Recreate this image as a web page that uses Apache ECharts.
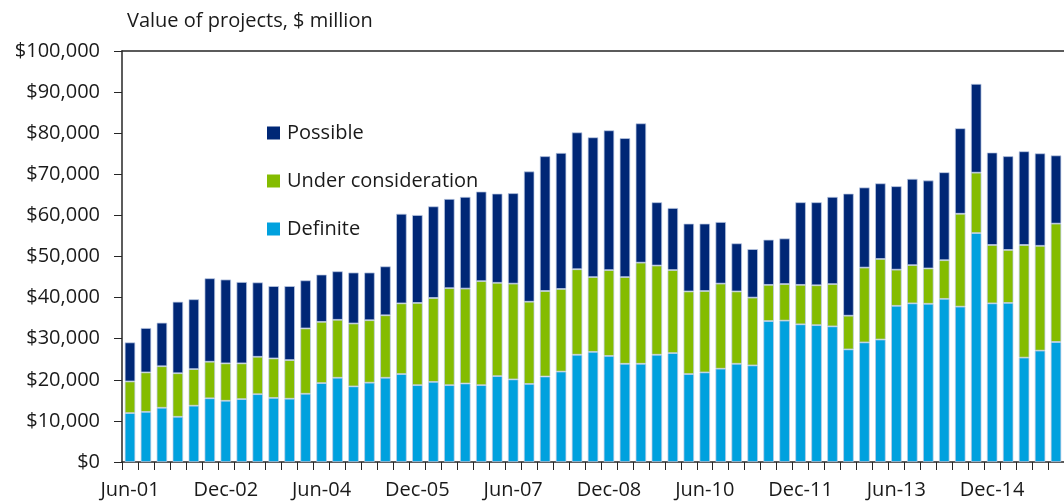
<!DOCTYPE html>
<html>
<head>
<meta charset="utf-8">
<script src="https://cdn.jsdelivr.net/npm/echarts@6/dist/echarts.min.js"></script>
<style>
	html, body { margin: 0; padding: 0; background: #fff; }
	#chart { width: 1064px; height: 504px; }
</style>
</head>
<body>
<div id="chart"></div>
<script>
	'use strict'

	/*----- data ($ million) -----*/
	var quarters = [
		'Jun-01', 'Sep-01', 'Dec-01', 'Mar-02', 'Jun-02', 'Sep-02',
		'Dec-02', 'Mar-03', 'Jun-03', 'Sep-03', 'Dec-03', 'Mar-04',
		'Jun-04', 'Sep-04', 'Dec-04', 'Mar-05', 'Jun-05', 'Sep-05',
		'Dec-05', 'Mar-06', 'Jun-06', 'Sep-06', 'Dec-06', 'Mar-07',
		'Jun-07', 'Sep-07', 'Dec-07', 'Mar-08', 'Jun-08', 'Sep-08',
		'Dec-08', 'Mar-09', 'Jun-09', 'Sep-09', 'Dec-09', 'Mar-10',
		'Jun-10', 'Sep-10', 'Dec-10', 'Mar-11', 'Jun-11', 'Sep-11',
		'Dec-11', 'Mar-12', 'Jun-12', 'Sep-12', 'Dec-12', 'Mar-13',
		'Jun-13', 'Sep-13', 'Dec-13', 'Mar-14', 'Jun-14', 'Sep-14',
		'Dec-14', 'Mar-15', 'Jun-15', 'Sep-15', 'Dec-15'
	];
	var definite = [
		11900, 12200, 13200, 11000, 13700, 15500, 14900, 15300, 16500, 15600,
		15400, 16600, 19200, 20500, 18400, 19300, 20500, 21400, 18700, 19500,
		18700, 19100, 18700, 20900, 20100, 19000, 20800, 22000, 26100, 26800,
		25800, 23900, 23900, 26100, 26500, 21400, 21800, 22700, 23900, 23500,
		34300, 34400, 33500, 33300, 33000, 27400, 29100, 29800, 38000, 38600,
		38500, 39700, 37800, 55700, 38600, 38700, 25400, 27100, 29200
	];
	var underConsideration = [
		7700, 9600, 10100, 10600, 8900, 8900, 9100, 8700, 9100, 9600,
		9400, 15900, 14900, 14100, 15300, 15200, 15200, 17200, 20000, 20400,
		23600, 23100, 25300, 22700, 23300, 20000, 20800, 20100, 20800, 18200,
		20900, 21100, 24600, 21700, 20200, 20100, 19800, 20700, 17600, 16500,
		8800, 8900, 9600, 9700, 10300, 8200, 18200, 19600, 8800, 9300,
		8600, 9400, 22600, 14700, 14200, 12900, 27400, 25500, 28800
	];
	var possible = [
		9500, 10800, 10600, 17400, 17000, 20300, 20400, 19800, 18100, 17600,
		18000, 11700, 11500, 11800, 12400, 11600, 11900, 21800, 21400, 22300,
		21700, 22300, 21800, 21700, 22000, 31700, 32800, 33100, 33300, 34000,
		34000, 33800, 33900, 15400, 15100, 16500, 16400, 15000, 11700, 11800,
		11000, 11100, 20100, 20200, 21200, 29700, 19500, 18400, 20300, 21000,
		21400, 21400, 20800, 21600, 22500, 22800, 22800, 22500, 16600
	];

	var fontFamily = '"Open Sans", "Noto Sans", sans-serif';
	var fontSize = 20;
	var textColor = '#1a1a1a';
	var axisColor = '#262626';
	var barEdge = 'rgba(190, 204, 228, 0.9)';

	function money(v) {
		return '$' + String(v).replace(/\B(?=(\d{3})+(?!\d))/g, ',');
	}

	function barSeries(name, data, color) {
		return {
			name: name,
			type: 'bar',
			stack: 'total',
			data: data,
			barWidth: '66%',
			itemStyle: {
				color: color,
				borderColor: barEdge,
				borderWidth: 0.8
			}
		};
	}

	var chart = echarts.init(document.getElementById('chart'), null, { renderer: 'canvas' });
	var option = {
		animation: false,
		textStyle: { fontFamily: fontFamily },
		title: {
			text: 'Value of projects, $ million',
			left: 122,
			top: 6,
			textStyle: {
				fontFamily: fontFamily,
				fontSize: fontSize,
				fontWeight: 'normal',
				color: textColor
			}
		},
		legend: {
			orient: 'vertical',
			left: 267,
			top: 123,
			padding: 0,
			itemWidth: 13,
			itemHeight: 13,
			itemGap: 28,
			icon: 'rect',
			itemStyle: { borderWidth: 0 },
			data: ['Possible', 'Under consideration', 'Definite'],
			textStyle: {
				fontFamily: fontFamily,
				fontSize: fontSize,
				lineHeight: 20,
				color: textColor,
				padding: [0, 0, 0, 2]
			}
		},
		grid: {
			left: 122,
			right: -2,
			top: 51,
			bottom: 42,
			containLabel: false
		},
		xAxis: [{
			type: 'category',
			data: quarters,
			boundaryGap: true,
			axisLine: { lineStyle: { color: axisColor, width: 1.5 } },
			axisTick: {
				show: true,
				interval: 0,
				inside: false,
				length: 8,
				lineStyle: { color: axisColor, width: 1 }
			},
			axisLabel: {
				interval: 5,
				margin: 18,
				fontFamily: fontFamily,
				fontSize: fontSize,
				color: textColor
			},
			splitLine: { show: false }
		}, {
			type: 'category',
			data: quarters,
			position: 'top',
			axisLine: { lineStyle: { color: axisColor, width: 1.5 } },
			axisTick: { show: false },
			axisLabel: { show: false },
			splitLine: { show: false }
		}],
		yAxis: {
			type: 'value',
			min: 0,
			max: 100000,
			interval: 10000,
			axisLine: { show: true, lineStyle: { color: axisColor, width: 1.5 } },
			axisTick: {
				show: true,
				inside: false,
				length: 8,
				lineStyle: { color: axisColor, width: 1 }
			},
			axisLabel: {
				margin: 22,
				fontFamily: fontFamily,
				fontSize: fontSize,
				color: textColor,
				formatter: money
			},
			splitLine: { show: false }
		},
		series: [
			barSeries('Definite', definite, '#00a1de'),
			barSeries('Under consideration', underConsideration, '#84bc00'),
			barSeries('Possible', possible, '#002776')
		]
	};
	chart.setOption(option);
</script>
</body>
</html>
